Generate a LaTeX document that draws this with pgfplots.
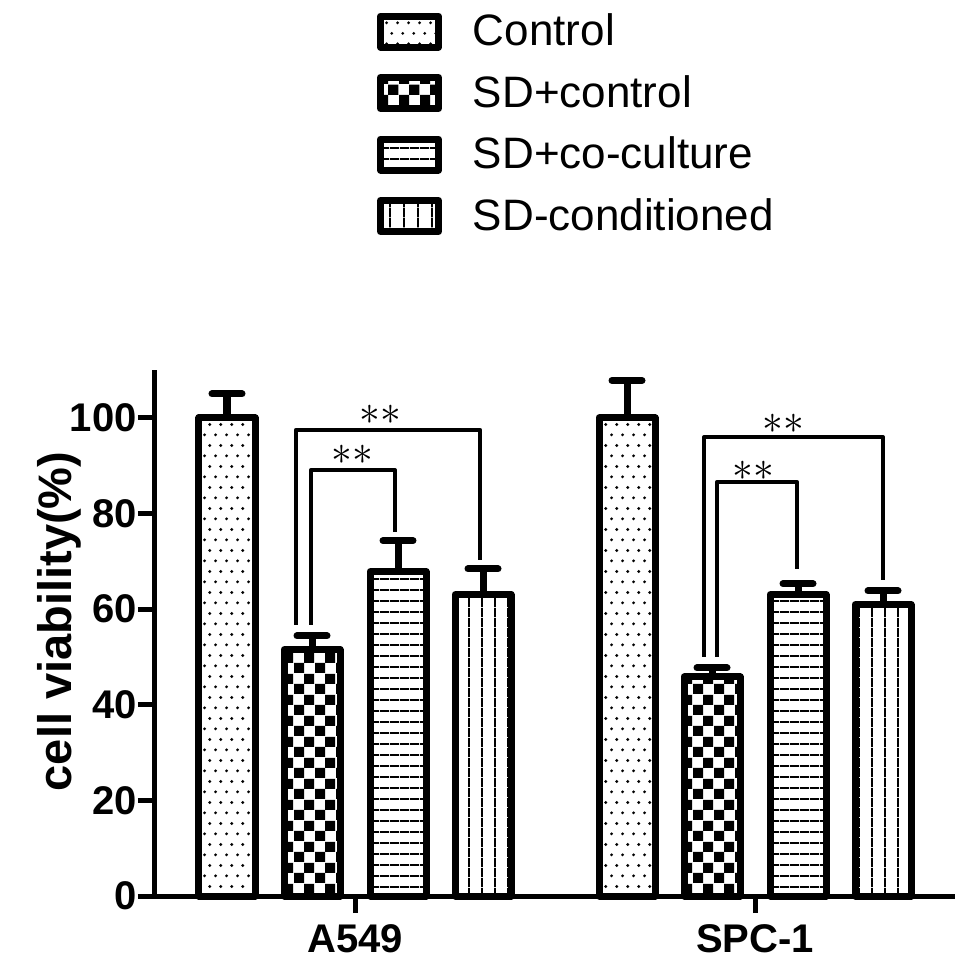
\documentclass[border=0pt]{standalone}
\usepackage{fontspec}
\setmainfont{Liberation Sans}
\usepackage{pgfplots}
\pgfplotsset{compat=1.18}
\usetikzlibrary{patterns}

\pgfdeclarepatternformonly{stagdots}{\pgfpointorigin}{\pgfqpoint{5.33pt}{10.67pt}}{\pgfqpoint{5.33pt}{10.67pt}}{%
  \pgfpathcircle{\pgfqpoint{1.33pt}{2.67pt}}{0.8pt}%
  \pgfpathcircle{\pgfqpoint{4pt}{8pt}}{0.8pt}%
  \pgfusepath{fill}}
\pgfdeclarepatternformonly{checker}{\pgfpointorigin}{\pgfqpoint{10.5pt}{10.5pt}}{\pgfqpoint{10.5pt}{10.5pt}}{%
  \pgfpathrectangle{\pgfpointorigin}{\pgfqpoint{5.25pt}{5.25pt}}%
  \pgfpathrectangle{\pgfqpoint{5.25pt}{5.25pt}}{\pgfqpoint{5.25pt}{5.25pt}}%
  \pgfusepath{fill}}
\pgfdeclarepatternformonly{hlines}{\pgfpointorigin}{\pgfqpoint{5pt}{5.6pt}}{\pgfqpoint{5pt}{5.6pt}}{%
  \pgfpathrectangle{\pgfpointorigin}{\pgfqpoint{5pt}{1pt}}%
  \pgfusepath{fill}}
\pgfdeclarepatternformonly{vlines}{\pgfpointorigin}{\pgfqpoint{6.7pt}{5pt}}{\pgfqpoint{6.7pt}{5pt}}{%
  \pgfpathrectangle{\pgfpointorigin}{\pgfqpoint{1pt}{5pt}}%
  \pgfusepath{fill}}

\pgfplotsset{
  mybar/.style={ybar, bar width=28pt, bar shift=0pt, draw=black, line width=3.5pt, line join=round,
    error bars/.cd, y dir=plus, y explicit,
    error bar style={line width=3.5pt, black},
    error mark options={rotate=90, line width=3.5pt, mark size=7.5pt, line cap=round, black},
    /pgfplots/.cd,
    legend image code/.code={%
      \draw[##1, line width=3.5pt, line join=round] (1.75pt,-7.75pt) rectangle (30.75pt,7.75pt);
      \path[draw=none, fill=none] (0pt,0pt) rectangle (46pt,0.1pt);}},
}

\begin{document}
\begin{tikzpicture}
\useasboundingbox (-77.5pt,-35pt) rectangle (407pt,448pt);
\begin{axis}[
  scale only axis, width=400pt, height=263pt,
  xmin=-0.5, xmax=1.5, ymin=0, ymax=110,
  axis x line=bottom, axis y line=left,
  axis line style={-, line width=2.5pt},
  xtick={0,1}, xticklabels={A549,SPC-1},
  ytick={0,20,40,60,80,100},
  tick align=outside, major tick length=8.5pt,
  tick style={line width=2.5pt, black},
  ticklabel style={font=\bfseries\fontsize{20}{22}\selectfont},
  yticklabel style={inner sep=0pt, xshift=-0.5pt},
  xticklabel style={yshift=-2pt},
  /pgf/number format/assume math mode=true,
  ylabel={cell viability(\%)},
  every axis y label/.style={at={(axis description cs:-0.119,0.522)}, rotate=90, anchor=center,
    font=\bfseries\fontsize{23.5}{25}\selectfont},
  legend style={draw=none, fill=none, at={(axis description cs:0.277,1.685)}, anchor=north west,
    inner sep=0pt, font=\fontsize{22}{26}\selectfont, row sep=9.3pt},
  legend cell align=left,
  clip=false,
]
% A549 at x=0, SPC-1 at x=1; bars offset by -0.32, -0.1075, 0.1075, 0.32
\addplot[mybar, pattern=stagdots] coordinates {(-0.32,100) +- (0,5.0) (0.68,100) +- (0,7.8)};
\addplot[mybar, pattern=checker] coordinates {(-0.1075,51.5) +- (0,2.9) (0.8925,45.8) +- (0,1.9)};
\addplot[mybar, pattern=hlines] coordinates {(0.1075,67.8) +- (0,6.5) (1.1075,63.0) +- (0,2.3)};
\addplot[mybar, pattern=vlines] coordinates {(0.32,63.0) +- (0,5.4) (1.32,60.9) +- (0,2.9)};
\legend{Control, SD+control, SD+co-culture, SD-conditioned}

% significance brackets
\addplot[black, line width=2pt, line join=round, forget plot, mark=none] coordinates {(-0.11,56.7) (-0.11,89.1) (0.1,89.1) (0.1,76.2)};
\addplot[black, line width=2pt, line join=round, forget plot, mark=none] coordinates {(-0.1475,56.7) (-0.1475,97.5) (0.3125,97.5) (0.3125,70.3)};
\addplot[black, line width=2pt, line join=round, forget plot, mark=none] coordinates {(0.905,50.0) (0.905,86.6) (1.105,86.6) (1.105,68.4)};
\addplot[black, line width=2pt, line join=round, forget plot, mark=none] coordinates {(0.8725,50.0) (0.8725,96.0) (1.32,96.0) (1.32,66.1)};

\node[font=\fontsize{20}{20}\selectfont] at (axis cs:0.0625,100.6) {${\ast}{\ast}$};
\node[font=\fontsize{20}{20}\selectfont] at (axis cs:-0.0075,92.3) {${\ast}{\ast}$};
\node[font=\fontsize{20}{20}\selectfont] at (axis cs:1.07,98.7) {${\ast}{\ast}$};
\node[font=\fontsize{20}{20}\selectfont] at (axis cs:0.995,89.0) {${\ast}{\ast}$};
\end{axis}
\end{tikzpicture}
\end{document}
